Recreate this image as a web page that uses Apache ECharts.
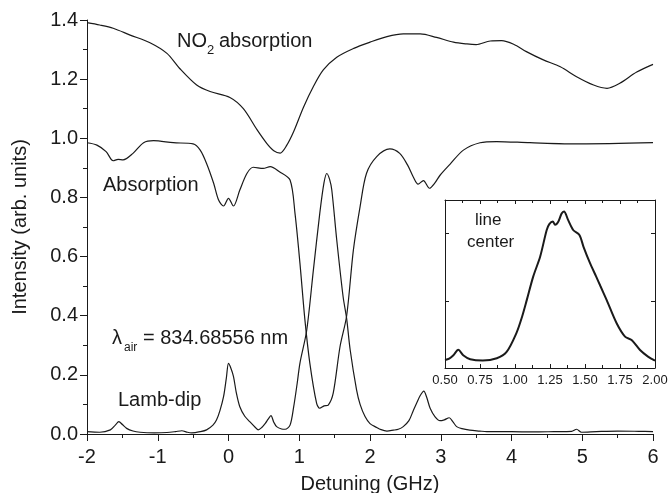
<!DOCTYPE html>
<html>
<head>
<meta charset="utf-8">
<script src="https://cdn.jsdelivr.net/npm/echarts@6/dist/echarts.min.js"></script>
<style>
  html, body { margin: 0; padding: 0; background: #fff; }
  #chart { width: 670px; height: 493px; }
</style>
</head>
<body>
<div id="chart"></div>
<script>
// NO2 absorption (top trace)
let no2X = [-2.0, -1.82, -1.63, -1.39, -1.11, -0.87, -0.69, -0.45, -0.26, 0.02, 0.21, 0.40, 0.54, 0.64, 0.73,
    0.82, 0.92, 1.06, 1.20, 1.34, 1.53, 1.77, 2.0, 2.24, 2.47, 2.71, 2.94, 3.18, 3.37, 3.50, 3.70, 3.86, 4.03,
    4.21, 4.45, 4.69, 4.92, 5.16, 5.35, 5.53, 5.77, 6.0];
let no2Y = [1.391, 1.383, 1.372, 1.349, 1.323, 1.287, 1.236, 1.180, 1.158, 1.138, 1.100, 1.030, 0.983, 0.958, 0.950,
    0.975, 1.022, 1.105, 1.175, 1.231, 1.274, 1.304, 1.325, 1.344, 1.353, 1.353, 1.341, 1.325, 1.319, 1.317, 1.329, 1.330, 1.318,
    1.293, 1.265, 1.242, 1.208, 1.180, 1.169, 1.186, 1.224, 1.250];

// Absorption (middle trace)
let absX = [-2.0, -1.86, -1.73, -1.63, -1.56, -1.49, -1.35, -1.20, -1.06, -0.78, -0.50, -0.40, -0.31, -0.21, -0.14,
    -0.07, 0.0, 0.07, 0.16, 0.26, 0.35, 0.49, 0.59, 0.72, 0.87, 0.94, 1.01, 1.08, 1.15, 1.245, 1.29, 1.35, 1.41,
    1.48, 1.576, 1.67, 1.765, 1.86, 1.95, 2.095, 2.28, 2.42, 2.53, 2.61, 2.68, 2.755, 2.84, 2.92, 2.99, 3.13,
    3.32, 3.555, 3.79, 4.26, 4.97, 6.0];
let absY = [0.985, 0.977, 0.955, 0.924, 0.929, 0.927, 0.949, 0.985, 0.992, 0.985, 0.981, 0.960, 0.915, 0.848, 0.791,
    0.771, 0.797, 0.771, 0.825, 0.881, 0.902, 0.898, 0.904, 0.887, 0.859, 0.746, 0.577, 0.386, 0.239, 0.104, 0.087, 0.095, 0.098,
    0.138, 0.295, 0.40, 0.622, 0.769, 0.881, 0.938, 0.964, 0.949, 0.91, 0.870, 0.845, 0.857, 0.831, 0.85, 0.875, 0.912,
    0.960, 0.985, 0.989, 0.985, 0.981, 0.985];

// Lamb-dip (bottom trace)
let lambX = [-2.0, -1.82, -1.67, -1.60, -1.55, -1.50, -1.44, -1.35, -1.25, -1.05, -0.87, -0.75, -0.66, -0.58, -0.52,
    -0.40, -0.31, -0.22, -0.17, -0.12, -0.07, -0.03, 0.0, 0.03, 0.07, 0.11, 0.16, 0.23, 0.30, 0.38, 0.42, 0.47,
    0.52, 0.56, 0.60, 0.64, 0.68, 0.75, 0.80, 0.87, 0.92, 0.97, 1.01, 1.105, 1.20, 1.29, 1.35, 1.39, 1.43, 1.46,
    1.53, 1.62, 1.67, 1.72, 1.81, 1.86, 1.93, 2.0, 2.095, 2.14, 2.24, 2.33, 2.40, 2.47, 2.55, 2.61, 2.66, 2.71,
    2.76, 2.80, 2.85, 2.92, 2.99, 3.05, 3.12, 3.17, 3.225, 3.30, 3.41, 3.55, 3.65, 3.80, 4.0, 4.3, 4.6, 4.85,
    4.92, 4.99, 5.2, 5.5, 5.8, 6.0];
let lambY = [0.008, 0.006, 0.014, 0.030, 0.042, 0.032, 0.019, 0.010, 0.006, 0.004, 0.005, 0.008, 0.011, 0.006, 0.004,
    0.008, 0.014, 0.030, 0.047, 0.080, 0.126, 0.190, 0.239, 0.225, 0.195, 0.140, 0.092, 0.060, 0.042, 0.022, 0.014, 0.022,
    0.036, 0.050, 0.062, 0.040, 0.025, 0.017, 0.016, 0.030, 0.09, 0.17, 0.24, 0.35, 0.555, 0.746, 0.85, 0.881, 0.86, 0.825,
    0.656, 0.464, 0.39, 0.284, 0.149, 0.10, 0.059, 0.035, 0.022, 0.016, 0.010, 0.013, 0.016, 0.025, 0.045, 0.078, 0.105, 0.130,
    0.145, 0.125, 0.087, 0.058, 0.045, 0.048, 0.055, 0.042, 0.025, 0.018, 0.013, 0.010, 0.008, 0.008, 0.008, 0.007, 0.008, 0.009,
    0.016, 0.006, 0.008, 0.010, 0.009, 0.008];

// inset: line center
let insetX = [0.50, 0.53, 0.56, 0.595, 0.63, 0.68, 0.77, 0.87, 0.94, 1.01, 1.05, 1.084, 1.13, 1.18, 1.226, 1.245,
    1.27, 1.286, 1.31, 1.333, 1.35, 1.38, 1.417, 1.46, 1.49, 1.536, 1.58, 1.61, 1.655, 1.726, 1.786, 1.833, 1.893,
    1.95, 2.0];
let insetY = [0.12, 0.14, 0.19, 0.27, 0.19, 0.13, 0.11, 0.145, 0.24, 0.52, 0.76, 1.01, 1.36, 1.66, 2.05, 2.14,
    2.18, 2.13, 2.18, 2.30, 2.33, 2.20, 2.05, 1.98, 1.80, 1.56, 1.36, 1.22, 1.01, 0.665, 0.466, 0.417, 0.268,
    0.17, 0.11];

function zip(xs, ys) {
    return xs.map(function (x, i) { return [x, ys[i]]; });
}

let font = 'Liberation Sans, Arial, sans-serif';
let ink = '#1a1a1a';

let myChart = echarts.init(document.getElementById('chart'));

let option = {
    animation: false,
    backgroundColor: '#fff',
    textStyle: { fontFamily: font },
    grid: [
        { left: 87, right: 17, top: 20, bottom: 59, outerBoundsMode: 'none', containLabel: false },
        { left: 445, width: 210, top: 200, height: 168, show: true, backgroundColor: '#fff', borderWidth: 0,
            outerBoundsMode: 'none', containLabel: false }
    ],
    xAxis: [
        {
            type: 'value', gridIndex: 0, min: -2, max: 6, interval: 1,
            name: 'Detuning (GHz)', nameLocation: 'middle', nameGap: 40,
            nameTextStyle: { fontSize: 20, color: ink, fontFamily: font },
            axisLine: { onZero: false, lineStyle: { color: ink, width: 1 } },
            axisTick: { inside: false, length: 7, lineStyle: { color: ink } },
            minorTick: { show: true, splitNumber: 2, length: 4, lineStyle: { color: ink } },
            splitLine: { show: false },
            axisLabel: { fontSize: 20, color: ink, margin: 13, fontFamily: font }
        },
        {
            type: 'value', gridIndex: 1, position: 'bottom', min: 0.5, max: 2, interval: 0.25,
            axisLine: { onZero: false, lineStyle: { color: ink, width: 1 } },
            axisTick: { inside: true, length: 4, lineStyle: { color: ink } },
            minorTick: { show: true, splitNumber: 2, length: 3, lineStyle: { color: ink } },
            splitLine: { show: false },
            axisLabel: { fontSize: 13, color: ink, margin: 6, fontFamily: font,
                formatter: function (v) { return v.toFixed(2); } }
        },
        {
            type: 'value', gridIndex: 1, position: 'top', min: 0.5, max: 2, interval: 0.25,
            axisLine: { onZero: false, lineStyle: { color: ink, width: 1 } },
            axisTick: { inside: true, length: 4, lineStyle: { color: ink } },
            minorTick: { show: true, splitNumber: 2, length: 3, lineStyle: { color: ink } },
            splitLine: { show: false },
            axisLabel: { show: false }
        }
    ],
    yAxis: [
        {
            type: 'value', gridIndex: 0, min: 0, max: 1.4, interval: 0.2,
            name: 'Intensity (arb. units)', nameLocation: 'middle', nameGap: 57,
            nameTextStyle: { fontSize: 20, color: ink, fontFamily: font },
            axisLine: { show: true, onZero: false, lineStyle: { color: ink, width: 1 } },
            axisTick: { show: true, inside: false, length: 7, lineStyle: { color: ink } },
            minorTick: { show: true, splitNumber: 2, length: 4, lineStyle: { color: ink } },
            splitLine: { show: false },
            axisLabel: { fontSize: 20, color: ink, margin: 9, fontFamily: font,
                formatter: function (v) { return v.toFixed(1); } }
        },
        {
            type: 'value', gridIndex: 1, position: 'left', min: 0, max: 2.5, interval: 1,
            axisLine: { show: true, onZero: false, lineStyle: { color: ink, width: 1 } },
            axisTick: { show: true, inside: true, length: 4, lineStyle: { color: ink } },
            splitLine: { show: false },
            axisLabel: { show: false }
        },
        {
            type: 'value', gridIndex: 1, position: 'right', min: 0, max: 2.5, interval: 1,
            axisLine: { show: true, onZero: false, lineStyle: { color: ink, width: 1 } },
            axisTick: { show: true, inside: true, length: 4, lineStyle: { color: ink } },
            splitLine: { show: false },
            axisLabel: { show: false }
        }
    ],
    series: [
        {
            name: 'NO2', type: 'line', xAxisIndex: 0, yAxisIndex: 0, showSymbol: false, smooth: 0.3,
            lineStyle: { color: ink, width: 1.2 }, data: zip(no2X, no2Y)
        },
        {
            name: 'Absorption', type: 'line', xAxisIndex: 0, yAxisIndex: 0, showSymbol: false, smooth: 0.3,
            lineStyle: { color: ink, width: 1.2 }, data: zip(absX, absY)
        },
        {
            name: 'Lamb-dip', type: 'line', xAxisIndex: 0, yAxisIndex: 0, showSymbol: false, smooth: 0.3,
            lineStyle: { color: ink, width: 1.2 }, data: zip(lambX, lambY)
        },
        {
            name: 'line center', type: 'line', xAxisIndex: 1, yAxisIndex: 1, showSymbol: false, smooth: 0.3,
            lineStyle: { color: ink, width: 2 }, data: zip(insetX, insetY)
        }
    ],
    graphic: [
        { type: 'text', left: 177, top: 31, style: { text: 'NO', font: '20px ' + font, fill: ink } },
        { type: 'text', left: 207, top: 44, style: { text: '2', font: '13px ' + font, fill: ink } },
        { type: 'text', left: 219, top: 31, style: { text: 'absorption', font: '20px ' + font, fill: ink } },
        { type: 'text', left: 103, top: 175, style: { text: 'Absorption', font: '20px ' + font, fill: ink } },
        { type: 'text', left: 112, top: 328, style: { text: 'λ', font: '20px ' + font, fill: ink } },
        { type: 'text', left: 124, top: 342, style: { text: 'air', font: '12px ' + font, fill: ink } },
        { type: 'text', left: 143, top: 328, style: { text: '= 834.68556 nm', font: '20px ' + font, fill: ink } },
        { type: 'text', left: 118, top: 390, style: { text: 'Lamb-dip', font: '20px ' + font, fill: ink } },
        { type: 'text', left: 475, top: 212, style: { text: 'line', font: '17px ' + font, fill: ink } },
        { type: 'text', left: 467, top: 234, style: { text: 'center', font: '17px ' + font, fill: ink } }
    ]
};

myChart.setOption(option);
</script>
</body>
</html>
